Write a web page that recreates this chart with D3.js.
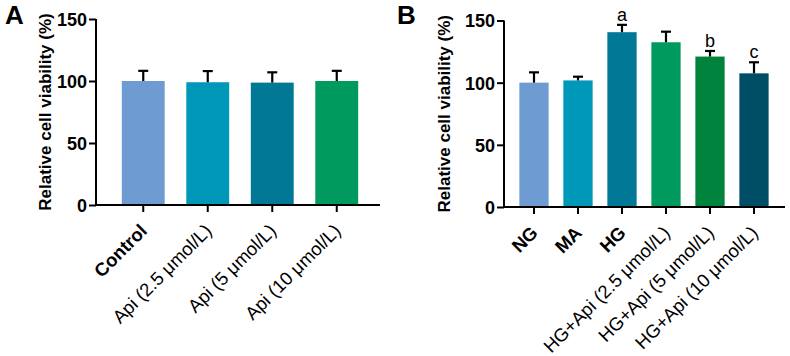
<!DOCTYPE html>
<html>
<head>
<meta charset="utf-8">
<script src="https://cdn.jsdelivr.net/npm/d3@7"></script>
<style>
    body { margin: 0; background: #fff; }
    svg { display: block; }
    text { font-family: "Liberation Sans", Arial, sans-serif; }
</style>
</head>
<body>
<div id="chart"></div>
<script>
// panel A data
const catsA = ["Control", "Api (2.5 μmol/L)", "Api (5 μmol/L)", "Api (10 μmol/L)"];
const meansA = [100, 99, 98.7, 100];
const sdA = [8.2, 9, 8.3, 8.2];
const boldA = [true, false, false, false];

// panel B data
const catsB = ["NG", "MA", "HG", "HG+Api (2.5 μmol/L)", "HG+Api (5 μmol/L)", "HG+Api (10 μmol/L)"];
const meansB = [100, 101.8, 140.6, 132.5, 121, 107.5];
const sdB = [8.3, 3, 5.9, 8.5, 4.5, 8.9];
const lettersB = ["", "", "a", "", "b", "c"];
const boldB = [true, true, true, false, false, false];

const yTicks = [0, 50, 100, 150];
const coloursA = ["#6e9bd2", "#0098b8", "#007896", "#009a5e"];
const coloursB = ["#6e9bd2", "#0098b8", "#007896", "#009a5e", "#00833d", "#004d66"];

const svg = d3.select("#chart").append("svg")
    .attr("width", 790)
    .attr("height", 356);

function drawPanel(opts){
    const g = svg.append("g");
    const y = d3.scaleLinear().domain([0, 150]).range([opts.y0, opts.y150]);
    const x = d3.scaleBand().domain(opts.cats)
        .range([opts.bandStart, opts.bandEnd])
        .paddingInner(0.335).paddingOuter(0.1675);

    // bars
    g.selectAll("rect.bar").data(opts.cats).enter().append("rect")
        .attr("class", "bar")
        .attr("x", d => x(d))
        .attr("width", x.bandwidth())
        .attr("y", (d, i) => y(opts.means[i]))
        .attr("height", (d, i) => y(0) - y(opts.means[i]))
        .attr("fill", (d, i) => opts.colours[i]);

    // error bars (upper only)
    const err = g.selectAll("g.err").data(opts.cats).enter().append("g")
        .attr("stroke", "#000").attr("stroke-width", 2.2);
    err.append("line")
        .attr("x1", d => x(d) + x.bandwidth() / 2)
        .attr("x2", d => x(d) + x.bandwidth() / 2)
        .attr("y1", (d, i) => y(opts.means[i]))
        .attr("y2", (d, i) => y(opts.means[i] + opts.sd[i]));
    err.append("line")
        .attr("x1", d => x(d) + x.bandwidth() / 2 - 5)
        .attr("x2", d => x(d) + x.bandwidth() / 2 + 5)
        .attr("y1", (d, i) => y(opts.means[i] + opts.sd[i]))
        .attr("y2", (d, i) => y(opts.means[i] + opts.sd[i]));

    // significance letters
    if(opts.letters){
        g.selectAll("text.sig").data(opts.cats).enter().append("text")
            .attr("x", d => x(d) + x.bandwidth() / 2)
            .attr("y", (d, i) => y(opts.means[i] + opts.sd[i]) - 4)
            .attr("text-anchor", "middle")
            .attr("font-size", 18)
            .text((d, i) => opts.letters[i]);
    }

    // y axis
    const yAxis = d3.axisLeft(y).tickValues(yTicks).tickSize(7).tickPadding(2);
    const ya = g.append("g")
        .attr("transform", `translate(${opts.axisX},0)`)
        .call(yAxis);
    ya.select(".domain").attr("stroke-width", 2).attr("d", `M0,${opts.y0}V${opts.y150}`);
    ya.selectAll(".tick line").attr("stroke-width", 2);
    ya.selectAll(".tick text")
        .attr("font-size", 18).attr("font-weight", "bold")
        .attr("font-family", "'Liberation Sans', Arial, sans-serif")
        .attr("dy", "0.36em");

    // x axis
    const xa = g.append("g")
        .attr("transform", `translate(0,${opts.y0})`)
        .call(d3.axisBottom(x).tickSize(7).tickFormat(""));
    xa.select(".domain").attr("stroke-width", 2).attr("d", `M${opts.axisX},0H${opts.axisEnd}`);
    xa.selectAll(".tick line").attr("stroke-width", 2);

    g.selectAll("text.xl").data(opts.cats).enter().append("text")
        .attr("transform", d => `translate(${x(d) + x.bandwidth() / 2 + 5},${opts.y0 + 27}) rotate(-45)`)
        .attr("text-anchor", "end")
        .attr("font-size", 18.5)
        .attr("font-weight", (d, i) => opts.bold[i] ? "bold" : "normal")
        .text(d => d);

    // y title
    g.append("text")
        .attr("transform", `translate(${opts.titleX},${(opts.y0 + opts.y150) / 2}) rotate(-90)`)
        .attr("text-anchor", "middle")
        .attr("font-size", 17)
        .attr("font-weight", "bold")
        .text("Relative cell viability (%)");

    // panel letter
    g.append("text")
        .attr("x", opts.labelX).attr("y", 24)
        .attr("font-size", 26).attr("font-weight", "bold")
        .text(opts.label);
}

drawPanel({
    cats: catsA, means: meansA, sd: sdA, colours: coloursA, bold: boldA,
    y0: 205, y150: 19, axisX: 96, axisEnd: 380,
    bandStart: 111, bandEnd: 369, titleX: 51, labelX: 5, label: "A"
});

drawPanel({
    cats: catsB, means: meansB, sd: sdB, colours: coloursB, bold: boldB, letters: lettersB,
    y0: 207, y150: 20.5, axisX: 504, axisEnd: 785,
    bandStart: 512, bandEnd: 776, titleX: 450, labelX: 397, label: "B"
});
</script>
</body>
</html>
